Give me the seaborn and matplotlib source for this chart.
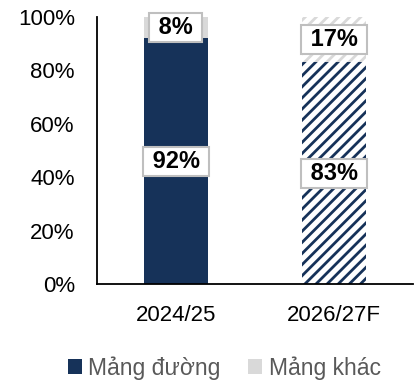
import matplotlib
matplotlib.use("Agg")
import matplotlib.pyplot as plt
import seaborn as sns
import pandas as pd

# Revenue mix by segment (%)
periods = ["2024/25", "2026/27F"]
sugar_share = [92, 83]
other_share = [8, 17]
legend_labels = ["Mảng đường", "Mảng khác"]
yticks = [0, 20, 40, 60, 80, 100]

NAVY = "#163259"
GRAY = "#d9d9d9"

sns.set_style("white")
plt.rcParams["font.family"] = ["Liberation Sans", "DejaVu Sans"]
plt.rcParams["hatch.linewidth"] = 2.0

df = pd.DataFrame({
    "period": periods,
    "sugar": sugar_share,
    "other": other_share,
})
df["total"] = df["sugar"] + df["other"]

fig = plt.figure(figsize=(4.17, 3.83), dpi=100)
ax = fig.add_axes([0.2326, 0.2585, 0.7574, 0.6971])

# Stacked bars: full-height "other" layer underneath, sugar layer on top
sns.barplot(data=df, x="period", y="total", color=GRAY, width=0.405,
            saturation=1, ax=ax)
sns.barplot(data=df, x="period", y="sugar", color=NAVY, width=0.405,
            saturation=1, ax=ax)

n = len(periods)
other_bars = ax.patches[:n]
sugar_bars = ax.patches[n:2 * n]
for p in other_bars + sugar_bars:
    p.set_linewidth(0)

# Forecast period drawn with diagonal stripes
forecast = n - 1
ob = other_bars[forecast]
ob.set_facecolor("white")
ob.set_edgecolor(GRAY)
ob.set_hatch("///")
sb = sugar_bars[forecast]
sb.set_facecolor("white")
sb.set_edgecolor(NAVY)
sb.set_hatch("///")

box = dict(boxstyle="square,pad=0.12", fc="white", ec="#bfbfbf", lw=1.5)
for i in range(n):
    s, o = sugar_share[i], other_share[i]
    ax.text(i, s / 2, f" {s}% ", ha="center", va="center", fontsize=17,
            fontweight="bold", color="black", bbox=box)
    ax.text(i, s + o / 2, f" {o}% ", ha="center", va="center", fontsize=17,
            fontweight="bold", color="black", bbox=box)

ax.set_xlim(-0.5, 1.5)
ax.set_ylim(0, 100)
ax.set_yticks(yticks)
ax.set_yticklabels([f"{t}%" for t in yticks])
ax.set_xlabel("")
ax.set_ylabel("")
ax.tick_params(axis="both", length=0, labelsize=16, colors="black")
ax.tick_params(axis="x", pad=15)
ax.tick_params(axis="y", pad=16)
sns.despine(ax=ax)
for side in ["left", "bottom"]:
    ax.spines[side].set_color("black")
    ax.spines[side].set_linewidth(1.3)

handles = [plt.Rectangle((0, 0), 1, 1, fc=NAVY, ec="none"),
           plt.Rectangle((0, 0), 1, 1, fc=GRAY, ec="none")]
leg = fig.legend(handles, legend_labels, loc="center", ncol=2,
                 bbox_to_anchor=(0.538, 0.039), frameon=False, fontsize=16.5,
                 handlelength=0.6, handleheight=0.6, handletextpad=0.3,
                 columnspacing=1.2, labelcolor="#595959",
                 borderpad=0, borderaxespad=0)

fig.savefig("out.png", dpi=100)
